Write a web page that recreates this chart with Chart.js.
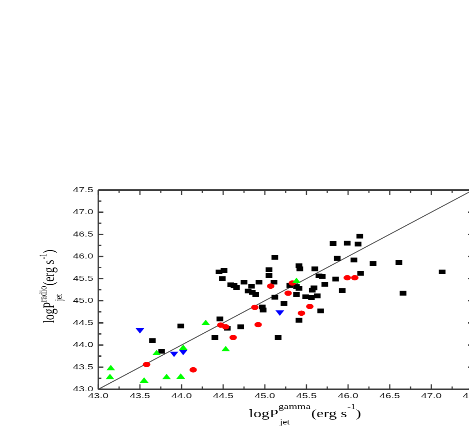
<!DOCTYPE html>
<html><head><meta charset="utf-8">
<script src="https://cdn.jsdelivr.net/npm/chart.js@4"></script>
<style>
html,body{margin:0;padding:0;background:#fff;overflow:hidden;width:469px;height:436px;}
#wrap{position:absolute;left:0;top:0;width:490px;height:606px;transform:scale(1,0.72);transform-origin:0 0;}
canvas{display:block;}
</style></head><body>
<div id="wrap"><canvas id="c" width="490" height="606"></canvas></div>
<script>
// ---- data ----
const xTickLabels = ['43.0','43.5','44.0','44.5','45.0','45.5','46.0','46.5','47.0','47.5'];
const yTickLabels = ['43.0','43.5','44.0','44.5','45.0','45.5','46.0','46.5','47.0','47.5'];

const blackX = [43.65,43.76,43.99,44.40,44.46,44.55,44.71,44.45,44.51,44.49,44.59,44.63,44.66,44.75,44.84,44.80,44.85,44.89,44.93,44.97,44.98,45.05,45.05,45.11,45.12,45.12,45.16,45.23,45.30,45.41,45.42,45.38,45.41,45.38,45.41,45.49,45.56,45.63,45.57,45.59,45.60,45.65,45.69,45.67,45.72,45.85,45.87,45.93,45.82,45.99,46.12,46.14,46.07,46.15,46.30,46.61,46.66,47.13];
const blackY = [44.10,43.86,44.43,44.17,44.59,44.38,44.41,45.65,45.68,45.50,45.36,45.34,45.30,45.42,45.33,45.22,45.19,45.14,45.42,44.86,44.79,45.70,45.57,45.42,45.98,45.08,44.17,44.94,45.35,45.79,45.72,45.32,45.28,45.14,44.56,45.09,45.07,45.11,45.24,45.29,45.72,45.56,45.55,44.77,45.37,45.49,45.96,45.23,46.29,46.30,46.28,46.46,45.92,45.62,45.84,45.86,45.17,45.65];

const redX = [43.58,44.14,44.47,44.53,44.62,44.88,44.92,45.07,45.28,45.33,45.44,45.54,45.99,46.08];
const redY = [43.56,43.44,44.45,44.41,44.17,44.85,44.46,45.33,45.17,45.40,44.72,44.87,45.52,45.52];

const greenX = [43.15,43.14,43.55,43.70,43.82,43.99,44.02,44.29,44.53,45.38];
const greenY = [43.47,43.27,43.19,43.81,43.27,43.28,43.93,44.49,43.90,45.44];

const blueX = [43.50,43.91,44.02,45.18];
const blueY = [44.34,43.81,43.85,44.74];

const lineX = [43.0, 47.5];
const lineY = [43.0, 47.5];

const xTitle = [{t:'logP',k:'m'},{t:'gamma',k:'sup',t2:'jet'},{t:'(erg s',k:'m'},{t:'-1',k:'sup'},{t:')',k:'m'}];
const yTitle = [{t:'logP',k:'m'},{t:'radio',k:'sup',t2:'jet'},{t:'(erg s',k:'m'},{t:'-1',k:'sup'},{t:')',k:'m'}];

const pts = (xs, ys) => xs.map((x, i) => ({x, y: ys[i]}));
const tickVals = labels => labels.map(Number);

const SERIF = '"Liberation Serif","Times New Roman",serif';

function drawRich(ctx, parts, supDy, subDy) {
  let x = 0;
  ctx.textBaseline = 'alphabetic';
  ctx.textAlign = 'left';
  for (const p of parts) {
    if (p.k === 'm') {
      ctx.font = '16px ' + SERIF;
      ctx.fillText(p.t, x, 0);
      x += ctx.measureText(p.t).width;
    } else {
      ctx.font = (p.t2 ? '11px ' : '10px ') + SERIF;
      ctx.fillText(p.t, x + (p.t2 ? 0 : 0.5), supDy);
      let w = ctx.measureText(p.t).width;
      if (p.t2) {
        ctx.font = '10px ' + SERIF;
        ctx.fillText(p.t2, x + 1.5, subDy);
        w = Math.max(w, ctx.measureText(p.t2).width + 1.5);
      }
      x += w + 0.5;
    }
  }
}

const framePlugin = {
  id: 'frame',
  afterDatasetsDraw(chart) {
    const {ctx, chartArea: a, scales: {x, y}} = chart;
    ctx.save();
    ctx.strokeStyle = '#3a3a3a';
    // horizontal frame lines
    ctx.lineWidth = 2.2;
    ctx.beginPath();
    ctx.moveTo(a.left, a.top); ctx.lineTo(a.right, a.top);
    ctx.moveTo(a.left, a.bottom); ctx.lineTo(a.right, a.bottom);
    ctx.stroke();
    ctx.lineWidth = 1.3;
    ctx.beginPath();
    ctx.moveTo(a.left, a.top); ctx.lineTo(a.left, a.bottom);
    ctx.moveTo(a.right, a.top); ctx.lineTo(a.right, a.bottom);
    ctx.stroke();
    // x ticks (inward, top & bottom)
    ctx.lineWidth = 1.2;
    ctx.beginPath();
    for (let v = x.min; v <= x.max + 1e-9; v += 0.25) {
      const px = x.getPixelForValue(v);
      const major = Math.abs(v * 2 - Math.round(v * 2)) < 1e-6;
      const L = major ? 7 : 4;
      ctx.moveTo(px, a.bottom); ctx.lineTo(px, a.bottom - L);
      ctx.moveTo(px, a.top); ctx.lineTo(px, a.top + L);
    }
    ctx.stroke();
    // y ticks (inward, left & right)
    ctx.lineWidth = 1.8;
    ctx.beginPath();
    for (let v = y.min; v <= y.max + 1e-9; v += 0.25) {
      const py = y.getPixelForValue(v);
      const major = Math.abs(v * 2 - Math.round(v * 2)) < 1e-6;
      const L = major ? 5 : 3;
      ctx.moveTo(a.left, py); ctx.lineTo(a.left + L, py);
      ctx.moveTo(a.right, py); ctx.lineTo(a.right - L, py);
    }
    ctx.stroke();
    ctx.restore();
  },
  afterDraw(chart) {
    const {ctx} = chart;
    ctx.save();
    ctx.fillStyle = '#000';
    ctx.translate(249, 579.6);
    drawRich(ctx, xTitle, -11.5, 10);
    ctx.restore();
    ctx.save();
    ctx.fillStyle = '#000';
    ctx.translate(54, 449);
    ctx.rotate(-Math.PI / 2);
    drawRich(ctx, yTitle, -7.5, 8);
    ctx.restore();
  }
};

const tickFont = {family: '"Liberation Sans", Arial, sans-serif', size: 10.5};

new Chart(document.getElementById('c'), {
  type: 'scatter',
  data: {
    datasets: [
      {label: 'green', data: pts(greenX, greenY), pointStyle: 'triangle', radius: 5, backgroundColor: '#00ff00', borderWidth: 0},
      {label: 'blue', data: pts(blueX, blueY), pointStyle: 'triangle', rotation: 180, radius: 5, backgroundColor: '#0000ff', borderWidth: 0},
      {label: 'red', data: pts(redX, redY), pointStyle: 'circle', radius: 3.7, backgroundColor: '#ff0000', borderWidth: 0},
      {label: 'black', data: pts(blackX, blackY), pointStyle: 'rect', radius: 4.7, backgroundColor: '#000000', borderWidth: 0},
      {type: 'line', label: 'fit', data: pts(lineX, lineY), borderColor: '#555555', borderWidth: 1.2, pointRadius: 0, fill: false}
    ]
  },
  options: {
    responsive: false,
    animation: false,
    devicePixelRatio: 2,
    layout: {padding: {top: 263.9, right: 17, left: 0, bottom: 0}},
    plugins: {legend: {display: false}, tooltip: {enabled: false}},
    scales: {
      x: {
        type: 'linear', min: 43, max: 47.5,
        afterBuildTicks: s => { s.ticks = tickVals(xTickLabels).map(v => ({value: v})); },
        afterFit: s => { s.height = 65.3; },
        ticks: {callback: (v, i) => xTickLabels[i], font: tickFont, color: '#111', padding: 3, maxRotation: 0, autoSkip: false},
        grid: {display: false, drawTicks: false},
        border: {display: false}
      },
      y: {
        type: 'linear', min: 43, max: 47.5,
        afterBuildTicks: s => { s.ticks = tickVals(yTickLabels).map(v => ({value: v})); },
        afterFit: s => { s.width = 98.3; },
        ticks: {callback: (v, i) => yTickLabels[i], font: tickFont, color: '#111', padding: 5, autoSkip: false},
        grid: {display: false, drawTicks: false},
        border: {display: false}
      }
    }
  },
  plugins: [framePlugin]
});
</script>
</body></html>
